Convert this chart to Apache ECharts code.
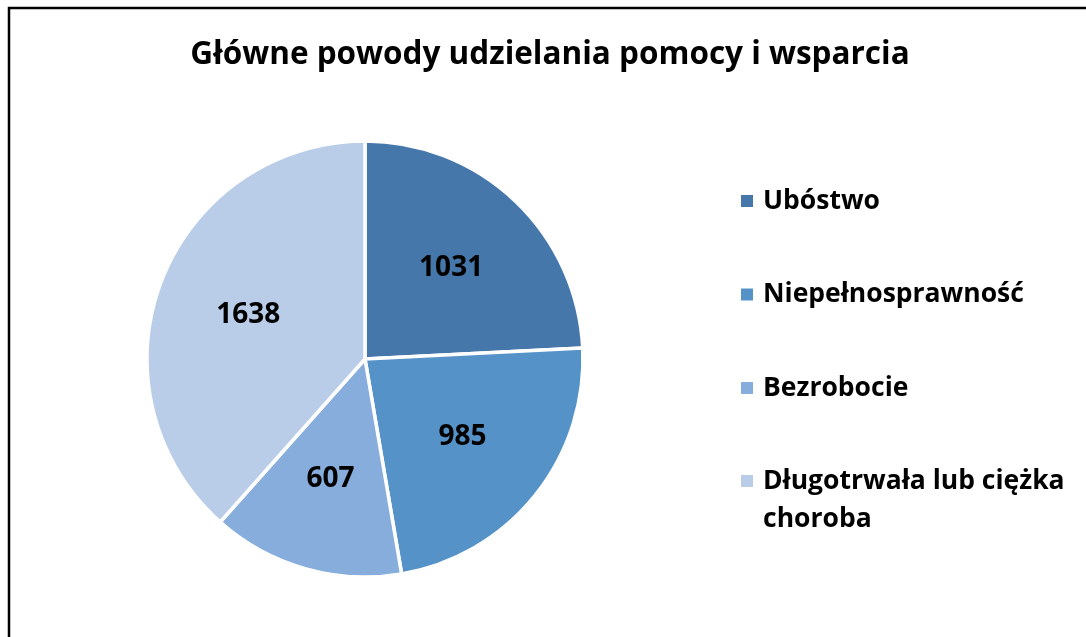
<!DOCTYPE html>
<html>
<head>
<meta charset="utf-8">
<script src="https://cdn.jsdelivr.net/npm/echarts@6/dist/echarts.min.js"></script>
<style>
html,body{margin:0;padding:0;background:#fff;}
#chart{width:1086px;height:637px;}
</style>
</head>
<body>
<div id="chart"></div>
<script>
const titleText = 'Główne powody udzielania pomocy i wsparcia';
const categories = ['Ubóstwo', 'Niepełnosprawność', 'Bezrobocie', 'Długotrwała lub ciężka choroba'];
const values = [1031, 985, 607, 1638];
const colors = ['#4677AA', '#5592C8', '#86ADDB', '#B9CDE8'];

const FONT = 'Open Sans';
const pieData = categories.map((c, i) => ({ name: c, value: values[i], itemStyle: { color: colors[i] } }));
const labelData = categories.map((c, i) => ({ name: c, value: values[i] }));

const chart = echarts.init(document.getElementById('chart'));
chart.setOption({
  animation: false,
  color: colors,
  title: {
    text: titleText,
    left: 550,
    textAlign: 'center',
    top: 39,
    padding: 0,
    textStyle: { fontFamily: FONT, fontWeight: 'bold', fontSize: 31.5, color: '#000' }
  },
  graphic: [{
    type: 'rect',
    shape: { x: 9, y: 8, width: 1200, height: 800 },
    style: { fill: 'none', stroke: '#000', lineWidth: 2.5 },
    silent: true
  }],
  legend: [{
    orient: 'vertical',
    left: 739,
    top: 183,
    padding: 0,
    itemWidth: 14,
    itemHeight: 14,
    itemGap: 57.5,
    icon: 'rect',
    data: categories.slice(0, 3),
    textStyle: { fontFamily: FONT, fontWeight: 'bold', fontSize: 26.5, lineHeight: 36, color: '#000', padding: [0, 0, 0, 4] }
  }, {
    orient: 'vertical',
    left: 739,
    top: 424,
    padding: 0,
    itemWidth: 14,
    itemHeight: 14,
    icon: 'rect',
    data: categories.slice(3),
    formatter: function (name) { return ' \n' + name.replace('ciężka ', 'ciężka\n'); },
    textStyle: { fontFamily: FONT, fontWeight: 'bold', fontSize: 26.5, lineHeight: 38, color: '#000', padding: [0, 0, 0, 4] }
  }],
  series: [{
    type: 'pie',
    center: [365, 359],
    radius: [0, 218],
    startAngle: 90,
    clockwise: true,
    label: { show: false },
    labelLine: { show: false },
    itemStyle: { borderColor: '#fff', borderWidth: 3.5 },
    emphasis: { disabled: true },
    data: pieData
  }, {
    type: 'pie',
    center: [365, 359],
    radius: [28, 216],
    startAngle: 90,
    clockwise: true,
    silent: true,
    itemStyle: { color: 'rgba(0,0,0,0)' },
    label: {
      show: true,
      position: 'inside',
      formatter: '{c}',
      fontFamily: FONT,
      fontWeight: 'bold',
      fontSize: 28,
      color: '#000'
    },
    labelLine: { show: false },
    emphasis: { disabled: true },
    data: labelData
  }]
});
</script>
</body>
</html>
